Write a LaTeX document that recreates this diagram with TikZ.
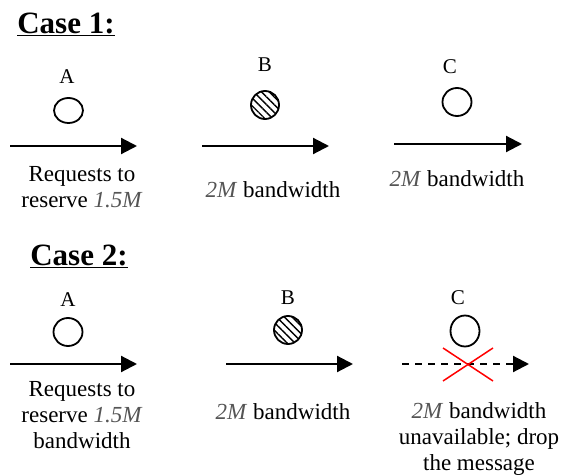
\documentclass[tikz,border=0pt]{standalone}
\usepackage{fontspec}
\setmainfont{LiberationSerif}[Extension=.ttf, UprightFont=*-Regular, BoldFont=*-Bold, ItalicFont=*-Italic, BoldItalicFont=*-BoldItalic]
\usetikzlibrary{arrows.meta,patterns.meta,shapes.geometric}
\definecolor{numgray}{HTML}{555555}
\newcommand{\gi}[1]{\textcolor{numgray}{\textit{#1}}}
\tikzset{
  title/.style={font=\fontsize{31}{34}\selectfont\bfseries},
  lbl/.style={font=\fontsize{21}{24}\selectfont},
  txt/.style={font=\fontsize{23}{26}\selectfont, align=center, inner sep=0pt},
  hop/.style={line width=2.2pt, -{Triangle[length=16pt,width=16pt]}},
  droppedhop/.style={hop, dash pattern=on 7pt off 6pt},
  nodeempty/.style={draw, line width=1.8pt, ellipse, minimum width=29pt, minimum height=25pt, inner sep=0pt},
  nodebusy/.style={draw, line width=1.8pt, circle, minimum size=28pt, inner sep=0pt,
     pattern={Lines[angle=-45, distance=5.5pt, line width=1.4pt]}},
  cross/.style={red, line width=1.5pt}
}
\begin{document}
\begin{tikzpicture}[x=1pt,y=-1pt]
\useasboundingbox (0,0) rectangle (566,476);
% Case 1
\node[title] (t1) at (66,24) {\underline{Case 1:}};
\node[lbl] (la1) at (67,77) {A};
\node[nodeempty] (a1) at (68.5,110.5) {};
\coordinate (a1s) at (10,146); \coordinate (a1e) at (137,146);
\draw[hop] (a1s) -- (a1e);
\node[txt] (ta1) at (82,187) {Requests to\\reserve \gi{1.5M}};

\node[lbl] (lb1) at (265,65) {B};
\node[nodebusy] (b1) at (265,105) {};
\coordinate (b1s) at (202,146); \coordinate (b1e) at (329,146);
\draw[hop] (b1s) -- (b1e);
\node[txt] (tb1) at (273,190) {\gi{2M} bandwidth};

\node[lbl] (lc1) at (450,67) {C};
\node[nodeempty, minimum height=28pt] (c1) at (457,102) {};
\coordinate (c1s) at (394,144); \coordinate (c1e) at (522,144);
\draw[hop] (c1s) -- (c1e);
\node[txt] (tc1) at (457,179) {\gi{2M} bandwidth};

% Case 2
\node[title] (t2) at (79,256) {\underline{Case 2:}};
\node[lbl] (la2) at (68,300) {A};
\node[nodeempty, minimum height=28pt] (a2) at (68,332) {};
\coordinate (a2s) at (10,364); \coordinate (a2e) at (137,364);
\draw[hop] (a2s) -- (a2e);
\node[txt] (ta2) at (82,415) {Requests to\\reserve \gi{1.5M}\\bandwidth};

\node[lbl] (lb2) at (288,298) {B};
\node[nodebusy] (b2) at (288,330) {};
\coordinate (b2s) at (226,364); \coordinate (b2e) at (353,364);
\draw[hop] (b2s) -- (b2e);
\node[txt] (tb2) at (283,412) {\gi{2M} bandwidth};

\node[lbl] (lc2) at (458,298) {C};
\node[nodeempty, minimum height=31pt] (c2) at (465,331) {};
\coordinate (c2s) at (402,364); \coordinate (c2e) at (529,364);
\draw[droppedhop] (c2s) -- (c2e);
\coordinate (x1) at (443,348); \coordinate (x2) at (493,381);
\coordinate (x3) at (443,381); \coordinate (x4) at (493,348);
\draw[cross] (x1) -- (x2);
\draw[cross] (x3) -- (x4);
\node[txt] (tc2) at (479,439) {\gi{2M} bandwidth\\unavailable; drop\\the message};
\end{tikzpicture}
\end{document}
